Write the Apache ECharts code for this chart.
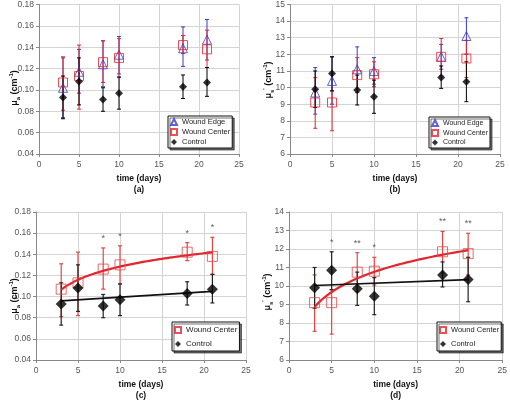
<!DOCTYPE html>
<html><head><meta charset="utf-8">
<script src="https://cdn.jsdelivr.net/npm/echarts@6/dist/echarts.min.js"></script>
<style>html,body{margin:0;padding:0;background:#fff}#c{width:510px;height:402px}</style>
</head><body><div id="c"></div>
<script>
// ---- data ----
const days = [3, 5, 8, 10, 18, 21];
const xTicks = [0, 5, 10, 15, 20, 25];

// panel (a)/(c): absorption mu_a
const edgeA = [0.102, 0.117, 0.124, 0.133, 0.139, 0.147];
const edgeALo = [0.074, 0.097, 0.103, 0.115, 0.122, 0.128];
const edgeAHi = [0.130, 0.138, 0.146, 0.150, 0.159, 0.166];
const centerA = [0.107, 0.113, 0.126, 0.130, 0.142, 0.138];
const centerALo = [0.081, 0.082, 0.107, 0.112, 0.134, 0.121];
const centerAHi = [0.131, 0.142, 0.146, 0.148, 0.151, 0.156];
const controlA = [0.093, 0.108, 0.091, 0.097, 0.103, 0.107];
const controlALo = [0.073, 0.086, 0.080, 0.082, 0.092, 0.094];
const controlAHi = [0.113, 0.130, 0.102, 0.112, 0.114, 0.121];

// panel (b)/(d): reduced scattering mu_s'
const edgeB = [9.7, 10.4, 11.1, 11.0, 11.85, 13.1];
const edgeBLo = [8.4, 9.0, 9.7, 10.2, 11.1, 12.0];
const edgeBHi = [11.2, 11.85, 12.45, 11.8, 12.6, 14.2];
const centerB = [9.1, 9.1, 10.75, 10.8, 11.85, 11.75];
const centerBLo = [7.55, 7.4, 9.7, 10.05, 10.7, 10.6];
const centerBHi = [10.6, 9.8, 11.8, 11.55, 12.95, 12.85];
const controlB = [9.9, 10.85, 9.85, 9.45, 10.6, 10.35];
const controlBLo = [8.8, 9.8, 8.95, 8.45, 9.95, 9.15];
const controlBHi = [11.0, 11.85, 10.75, 10.45, 11.3, 11.55];

// significance marks
const sigDaysC = [8, 10, 18, 21];
const sigMarksC = ['*', '*', '*', '*'];
const sigDaysD = [5, 8, 10, 18, 21];
const sigMarksD = ['*', '**', '*', '**', '**'];

// ---- styles ----
const FONT = 'Liberation Sans, Arial, sans-serif';
const BLUE = '#3a3ac4', RED = '#e3262e', RED2 = '#e04848', BLACK = '#000';

function xAxis(gi, label) {
  return {
    type: 'value', gridIndex: gi, min: 0, max: 25, interval: 5,
    axisLine: {show: true, lineStyle: {color: '#888', width: 1}},
    axisTick: {show: true, length: 3, lineStyle: {color: '#888'}},
    axisLabel: {fontSize: 8.5, color: '#555', fontFamily: FONT, margin: 6},
    splitLine: {show: true, lineStyle: {color: '#d4d4d4', width: 1}},
    name: 'time (days)\n' + label, nameLocation: 'middle', nameGap: 19,
    nameTextStyle: {fontSize: 8.5, fontWeight: 'bold', color: '#111', fontFamily: FONT, lineHeight: 11, verticalAlign: 'top'}
  };
}
function yAxis(gi, min, max, interval, dec) {
  return {
    type: 'value', gridIndex: gi, min: min, max: max, interval: interval,
    axisLine: {show: true, lineStyle: {color: '#888', width: 1}},
    axisTick: {show: true, length: 3, lineStyle: {color: '#888'}},
    axisLabel: {fontSize: 8.5, color: '#555', fontFamily: FONT, margin: 5,
      formatter: v => v.toFixed(dec)},
    splitLine: {show: true, lineStyle: {color: '#d4d4d4', width: 1}}
  };
}

function errSeries(gi, lo, hi, color, width, cap, name) {
  return {
    type: 'custom', name: name, xAxisIndex: gi, yAxisIndex: gi, z: 2,
    encode: {x: 0, y: [1, 2]},
    data: days.map((d, i) => [d, lo[i], hi[i]]),
    renderItem: (params, api) => {
      const x = api.value(0);
      const a = api.coord([x, api.value(1)]);
      const b = api.coord([x, api.value(2)]);
      const st = {stroke: color, lineWidth: width, fill: null};
      return {type: 'group', children: [
        {type: 'line', shape: {x1: a[0], y1: a[1], x2: b[0], y2: b[1]}, style: st},
        {type: 'line', shape: {x1: a[0] - cap, y1: a[1], x2: a[0] + cap, y2: a[1]}, style: st},
        {type: 'line', shape: {x1: b[0] - cap, y1: b[1], x2: b[0] + cap, y2: b[1]}, style: st}
      ]};
    }
  };
}
function markSeries(gi, name, vals, symbol, size, color, filled) {
  return {
    type: 'scatter', name: name, xAxisIndex: gi, yAxisIndex: gi, z: 4,
    symbol: symbol, symbolSize: size,
    itemStyle: filled ? {color: color} : {color: 'rgba(255,255,255,0)', borderColor: color, borderWidth: 1},
    data: days.map((d, i) => [d, vals[i]])
  };
}
function logFitLine(gi, ys, color, width) {
  const lx = days.map(Math.log);
  const n = days.length;
  const mx = lx.reduce((s, v) => s + v, 0) / n;
  const my = ys.reduce((s, v) => s + v, 0) / n;
  let sxy = 0, sxx = 0;
  for (let i = 0; i < n; i++) { sxy += (lx[i] - mx) * (ys[i] - my); sxx += (lx[i] - mx) ** 2; }
  const b = sxy / sxx, a = my - b * mx;
  const x0 = days[0], x1 = days[n - 1], pts = [];
  for (let k = 0; k <= 60; k++) { const x = x0 + (x1 - x0) * k / 60; pts.push([x, a + b * Math.log(x)]); }
  return {type: 'line', xAxisIndex: gi, yAxisIndex: gi, z: 3, showSymbol: false, silent: true,
    smooth: false, lineStyle: {color: color, width: width}, data: pts};
}
function linFitLine(gi, ys, color, width) {
  const n = days.length;
  const mx = days.reduce((s, v) => s + v, 0) / n;
  const my = ys.reduce((s, v) => s + v, 0) / n;
  let sxy = 0, sxx = 0;
  for (let i = 0; i < n; i++) { sxy += (days[i] - mx) * (ys[i] - my); sxx += (days[i] - mx) ** 2; }
  const b = sxy / sxx, a = my - b * mx;
  const x0 = days[0], x1 = days[n - 1];
  return {type: 'line', xAxisIndex: gi, yAxisIndex: gi, z: 3, showSymbol: false, silent: true,
    lineStyle: {color: color, width: width}, data: [[x0, a + b * x0], [x1, a + b * x1]]};
}
function starSeries(gi, sDays, sMarks, hiA, hiB) {
  return {
    type: 'scatter', xAxisIndex: gi, yAxisIndex: gi, z: 5, symbolSize: 0, silent: true,
    data: sDays.map((d, k) => {
      const i = days.indexOf(d);
      return {value: [d, Math.max(hiA[i], hiB[i])], name: sMarks[k]};
    }),
    label: {show: true, position: 'top', distance: 5, formatter: '{b}', fontSize: 9,
      color: '#333', fontFamily: FONT}
  };
}
function legend(left, top, names, gap, fs, pad, iw) {
  return {
    orient: 'vertical', left: left, top: top, data: names, selectedMode: false,
    itemWidth: iw, itemHeight: iw, itemGap: gap,
    textStyle: {fontSize: fs, color: '#222', fontFamily: FONT},
    padding: pad, borderColor: '#111', borderWidth: 1, backgroundColor: '#fff',
    shadowColor: 'rgba(0,0,0,0.55)', shadowOffsetX: 2, shadowOffsetY: 2, shadowBlur: 0
  };
}
function yTitle(x, y, sub, prime) {
  return {
    type: 'text', x: x, y: y, rotation: Math.PI / 2, z: 10,
    style: {
      text: '{m|μ}{s|' + sub + '}' + (prime ? '{p|\'}' : '') + '{m| (cm}{p|-1}{m|)}',
      align: 'center', verticalAlign: 'middle',
      rich: {
        m: {fontSize: 9, fontWeight: 'bold', fontFamily: FONT, fill: '#111', lineHeight: 13, verticalAlign: 'middle'},
        s: {fontSize: 6, fontWeight: 'bold', fontFamily: FONT, fill: '#111', verticalAlign: 'bottom'},
        p: {fontSize: 6, fontWeight: 'bold', fontFamily: FONT, fill: '#111', verticalAlign: 'top'}
      }
    }
  };
}

const option = {
  backgroundColor: '#fff',
  animation: false,
  grid: [
    {left: 39, top: 3, width: 200, height: 151},
    {left: 290, top: 3, width: 210, height: 151},
    {left: 36, top: 212, width: 210, height: 152},
    {left: 289, top: 212, width: 218, height: 151}
  ],
  xAxis: [xAxis(0, '(a)'), xAxis(1, '(b)'), xAxis(2, '(c)'), xAxis(3, '(d)')],
  yAxis: [yAxis(0, 0.04, 0.18, 0.02, 2), yAxis(1, 6, 15, 1, 0), yAxis(2, 0.04, 0.18, 0.02, 2), yAxis(3, 6, 14, 1, 0)],
  legend: [
    legend(168, 116, ['Wound Edge', 'Wound Center', 'Control'], 2, 7.5, [2, 2, 2, 2], 6),
    legend(429, 117, ['Wound Edge', 'Wound Center', 'Control'], 2, 7, [2, 2, 2, 2], 6),
    legend(172, 322, ['Wound Center', 'Control'], 6, 8, [4, 2, 3, 2], 6),
    legend(437, 322, ['Wound Center', 'Control'], 6, 7.5, [4, 2, 3, 2], 6)
  ],
  graphic: [yTitle(15, 88, 'a', false), yTitle(269, 80, 's', true), yTitle(15, 296, 'a', false), yTitle(268, 292, 's', true)],
  series: [
    // (a)
    errSeries(0, edgeALo, edgeAHi, BLUE, 1, 2, 'eA'),
    errSeries(0, centerALo, centerAHi, RED, 1, 2, 'cA'),
    errSeries(0, controlALo, controlAHi, BLACK, 1, 2, 'kA'),
    markSeries(0, 'Wound Edge', edgeA, 'triangle', 9, BLUE, false),
    markSeries(0, 'Wound Center', centerA, 'rect', 9, RED, false),
    markSeries(0, 'Control', controlA, 'diamond', 8, BLACK, true),
    // (b)
    errSeries(1, edgeBLo, edgeBHi, BLUE, 1, 2, 'eB'),
    errSeries(1, centerBLo, centerBHi, RED, 1, 2, 'cB'),
    errSeries(1, controlBLo, controlBHi, BLACK, 1, 2, 'kB'),
    markSeries(1, 'Wound Edge', edgeB, 'triangle', 9, BLUE, false),
    markSeries(1, 'Wound Center', centerB, 'rect', 9, RED, false),
    markSeries(1, 'Control', controlB, 'diamond', 8, BLACK, true),
    // (c)
    errSeries(2, centerALo, centerAHi, RED2, 1.2, 2, 'cC'),
    errSeries(2, controlALo, controlAHi, '#222', 1.2, 2, 'kC'),
    logFitLine(2, centerA, RED, 2.2),
    linFitLine(2, controlA, '#111', 1.6),
    markSeries(2, 'Wound Center', centerA, 'rect', 10, RED2, false),
    markSeries(2, 'Control', controlA, 'diamond', 11, BLACK, true),
    starSeries(2, sigDaysC, sigMarksC, centerAHi, controlAHi),
    // (d)
    errSeries(3, centerBLo, centerBHi, RED2, 1.2, 2, 'cD'),
    errSeries(3, controlBLo, controlBHi, '#222', 1.2, 2, 'kD'),
    logFitLine(3, centerB, RED, 2.2),
    linFitLine(3, controlB, '#111', 1.6),
    markSeries(3, 'Wound Center', centerB, 'rect', 10, RED2, false),
    markSeries(3, 'Control', controlB, 'diamond', 11, BLACK, true),
    starSeries(3, sigDaysD, sigMarksD, centerBHi, controlBHi)
  ]
};
const chart = echarts.init(document.getElementById('c'), null, {renderer: 'canvas'});
chart.setOption(option);
</script></body></html>
